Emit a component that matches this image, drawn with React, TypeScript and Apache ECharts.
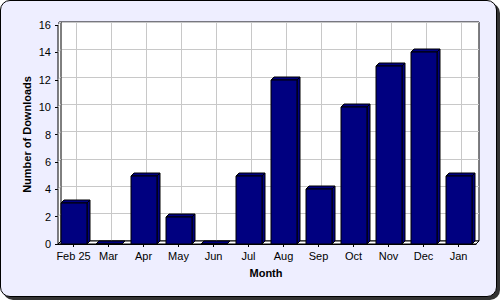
import React, { useEffect, useRef } from "react";
import * as echarts from "echarts";

const categories = ["Feb 25", "Mar", "Apr", "May", "Jun", "Jul", "Aug", "Sep", "Oct", "Nov", "Dec", "Jan"];
const downloads = [3, 0, 5, 2, 0, 5, 12, 4, 10, 13, 14, 5];
const yMin = 0;
const yMax = 16;
const yStep = 2;

const DEPTH = 3;
const FONT = "Liberation Sans, Arial, sans-serif";

export default function App() {
  const ref = useRef<HTMLDivElement>(null);
  useEffect(() => {
    if (!ref.current) return;
    const chart = echarts.init(ref.current, null, { renderer: "svg" });
    const d = DEPTH;
    const option: any = {
      animation: false,
      backgroundColor: "transparent",
      textStyle: { fontFamily: FONT },
      grid: [
        { left: 56, top: 25, width: 420, height: 219, show: false },
        {
          left: 56 + d,
          top: 25 - d,
          width: 420,
          height: 219,
          show: true,
          backgroundColor: "#ffffff",
          borderColor: "#000000",
          borderWidth: 1,
        },
      ],
      xAxis: [
        {
          gridIndex: 0,
          type: "category",
          data: categories,
          axisLine: { show: true, lineStyle: { color: "#000", width: 1 } },
          axisTick: { show: true, alignWithLabel: true, length: 3, lineStyle: { color: "#000" } },
          axisLabel: { color: "#000", fontSize: 11, fontFamily: FONT, margin: 6, interval: 0 },
          splitLine: { show: false },
          name: "Month",
          nameLocation: "middle",
          nameGap: 23,
          nameMoveOverlap: false,
          nameTextStyle: { color: "#000", fontSize: 11, fontWeight: "bold", fontFamily: FONT },
        },
        {
          gridIndex: 1,
          type: "category",
          data: categories,
          axisLine: { show: false },
          axisTick: { show: false },
          axisLabel: { show: false },
          splitLine: { show: false },
        },
      ],
      yAxis: [
        {
          gridIndex: 0,
          type: "value",
          min: yMin,
          max: yMax,
          interval: yStep,
          offset: -2,
          axisLine: { show: true, lineStyle: { color: "#000", width: 1 } },
          axisTick: { show: true, length: 3, lineStyle: { color: "#000" } },
          axisLabel: { color: "#000", fontSize: 11, fontFamily: FONT, margin: 7 },
          splitLine: { show: false },
          name: "Number of Downloads",
          nameLocation: "middle",
          nameGap: 26,
          nameMoveOverlap: false,
          nameRotate: 90,
          nameTextStyle: { color: "#000", fontSize: 11, fontWeight: "bold", fontFamily: FONT },
        },
        {
          gridIndex: 1,
          type: "value",
          min: yMin,
          max: yMax,
          interval: yStep,
          axisLine: { show: false },
          axisTick: { show: false },
          axisLabel: { show: false },
          splitLine: { show: true, lineStyle: { color: "#c8c8c8", width: 1 } },
        },
      ],
      series: [
        {
          type: "custom",
          xAxisIndex: 1,
          yAxisIndex: 1,
          z: 1,
          silent: true,
          data: categories.map((_, i) => [i, 0]),
          renderItem: (params: any, api: any) => {
            const cs = params.coordSys;
            const p = api.coord([api.value(0), 0]);
            return {
              type: "line",
              shape: { x1: p[0], y1: cs.y + 1, x2: p[0], y2: cs.y + cs.height },
              style: { stroke: "#c8c8c8", lineWidth: 1 },
            };
          },
        },
        {
          type: "custom",
          xAxisIndex: 0,
          yAxisIndex: 0,
          z: 2,
          silent: true,
          data: [[0, 0]],
          renderItem: (params: any, api: any) => {
            const cs = params.coordSys;
            const left = cs.x + 2;
            const right = cs.x + cs.width;
            const top = cs.y;
            const bottom = cs.y + cs.height;
            const ticks: any[] = [];
            for (let v = yMin; v <= yMax; v += yStep) {
              const y = api.coord([0, v])[1];
              ticks.push({
                type: "line",
                shape: { x1: left, y1: y, x2: left + d, y2: y - d },
                style: { stroke: "#c8c8c8", lineWidth: 1 },
              });
            }
            return {
              type: "group",
              children: [
                {
                  type: "polygon",
                  shape: { points: [[left, top], [left + d, top - d], [left + d, bottom - d], [left, bottom]] },
                  style: { fill: "#ffffff", stroke: "#000", lineWidth: 1 },
                },
                ...ticks,
                {
                  type: "polygon",
                  shape: {
                    points: [[left, bottom], [left + d, bottom - d], [right + d, bottom - d], [right, bottom]],
                  },
                  style: { fill: "#ffffff", stroke: "#000", lineWidth: 1 },
                },
              ],
            };
          },
        },
        {
          type: "custom",
          xAxisIndex: 0,
          yAxisIndex: 0,
          z: 3,
          data: downloads.map((v, i) => [i, v]),
          renderItem: (params: any, api: any) => {
            const i = api.value(0);
            const v = api.value(1);
            const t = api.coord([i, v]);
            const b = api.coord([i, 0]);
            const bw = Math.round(api.size([1, 0])[0] * 0.74);
            const x = Math.round(t[0] - bw / 2);
            const yt = Math.round(t[1]);
            const yb = Math.round(b[1]);
            const st = { fill: "#000080", stroke: "#000", lineWidth: 1 };
            return {
              type: "group",
              children: [
                {
                  type: "polygon",
                  shape: { points: [[x + bw, yt], [x + bw + d, yt - d], [x + bw + d, yb - d], [x + bw, yb]] },
                  style: st,
                },
                {
                  type: "polygon",
                  shape: { points: [[x, yt], [x + d, yt - d], [x + bw + d, yt - d], [x + bw, yt]] },
                  style: st,
                },
                {
                  type: "rect",
                  shape: { x: x, y: yt, width: bw, height: yb - yt },
                  style: st,
                },
              ],
            };
          },
        },
      ],
    };
    chart.setOption(option);
    return () => chart.dispose();
  }, []);

  return (
    <div style={{ position: "fixed", left: 0, top: 0, width: 500, height: 300, overflow: "hidden", background: "#ffffff" }}>
      <div
        style={{
          position: "absolute",
          left: 3,
          top: 3,
          width: 497,
          height: 297,
          background: "#333333",
          borderRadius: 10,
        }}
      />
      <div
        style={{
          position: "absolute",
          left: 0,
          top: 0,
          width: 495,
          height: 295,
          background: "#eeeeff",
          border: "1px solid #000",
          borderRadius: 10,
        }}
      />
      <div ref={ref} style={{ position: "absolute", left: 0, top: 0, width: 500, height: 300 }} />
    </div>
  );
}
